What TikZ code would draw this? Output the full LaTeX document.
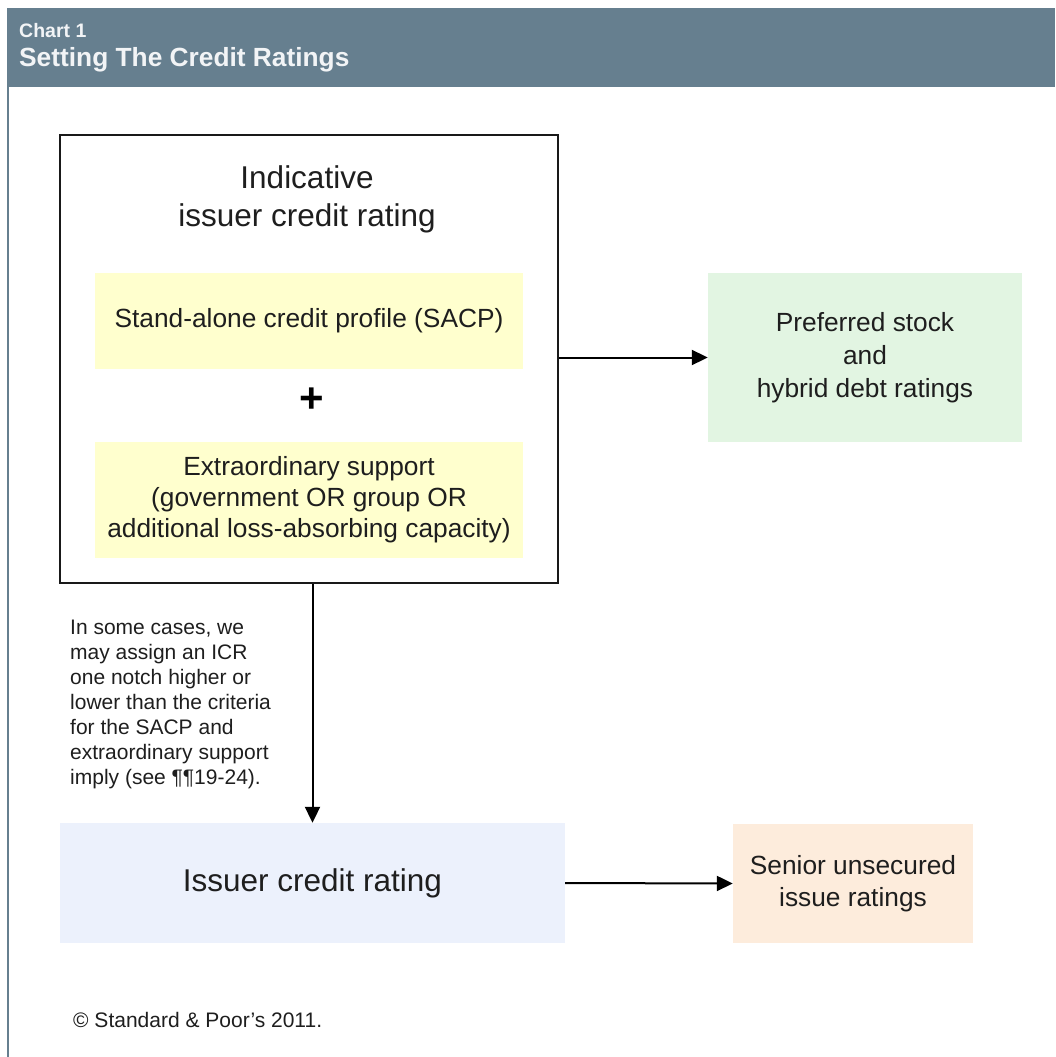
\documentclass[tikz,border=0pt]{standalone}
\usepackage{fontspec}
\setmainfont{Liberation Sans}
\usetikzlibrary{arrows.meta}
\definecolor{hdr}{RGB}{102,127,143}
\definecolor{hdrtxt}{RGB}{242,244,246}
\definecolor{txt}{RGB}{30,30,30}
\definecolor{yel}{RGB}{255,255,206}
\definecolor{grn}{RGB}{226,245,226}
\definecolor{blu}{RGB}{236,241,252}
\definecolor{pch}{RGB}{253,236,220}
\tikzset{
  fillbox/.style={draw=none, inner sep=0pt, align=center, text=txt},
  big/.style={font=\fontsize{31.5}{38}\selectfont},
  mid/.style={font=\fontsize{26.3}{32}\selectfont},
  small/.style={font=\fontsize{21}{25}\selectfont},
  arr/.style={line width=2pt, draw=black, -{Triangle[length=16pt,width=15pt]}},
}
\begin{document}
\begin{tikzpicture}[x=1pt,y=-1pt]
\useasboundingbox (0,0) rectangle (1055,1057);
% header and frame
\fill[hdr] (7,8) rectangle (1055,87);
\draw[hdr, line width=1.5pt] (8,87) -- (8,1057);
\node[anchor=west, text=hdrtxt, font=\fontsize{19.5}{22}\selectfont\bfseries, inner sep=0pt] (chart) at (19,31) {Chart 1};
\node[anchor=west, text=hdrtxt, font=\fontsize{26.3}{30}\selectfont\bfseries, inner sep=0pt] (title) at (19,60) {Setting The Credit Ratings};
% main box
\node[draw=black!90, line width=2pt, minimum width=498pt, minimum height=448pt, inner sep=0pt] (main) at (309,359) {};
\node[fillbox, big] (ind) at (307,199) {Indicative\\issuer credit rating};
\node[fillbox, mid, fill=yel, minimum width=428pt, minimum height=96pt] (sacp) at (309,321) {Stand-alone credit profile (SACP)};
\node[fillbox, font=\fontsize{42}{42}\selectfont\bfseries, text=black] (plus) at (312,400) {+};
\node[fillbox, mid, fill=yel, minimum width=428pt, minimum height=116pt, font=\fontsize{26.3}{31}\selectfont] (extra) at (309,500) {Extraordinary support\\(government OR group OR\\additional loss-absorbing capacity)};
% right boxes
\node[fillbox, mid, fill=grn, minimum width=314pt, minimum height=169pt, font=\fontsize{26.3}{33}\selectfont] (pref) at (865,357.5) {Preferred stock\\and\\hybrid debt ratings};
\node[fillbox, big, fill=blu, minimum width=505pt, minimum height=120pt] (icr) at (312.5,883) {Issuer credit rating};
\node[fillbox, mid, fill=pch, minimum width=240pt, minimum height=119pt] (sen) at (853,883.5) {Senior unsecured\\issue ratings};
% note
\node[fillbox, small, align=left, anchor=west] (note) at (70,704) {In some cases, we\\may assign an ICR\\one notch higher or\\lower than the criteria\\for the SACP and\\extraordinary support\\imply (see ¶¶19-24).};
\node[fillbox, small, anchor=west] (copy) at (73,1020) {© Standard \& Poor's 2011.};
% connectors
\draw[arr] (main.east |- pref.west) -- (pref.west);
\draw[arr] (main.south -| icr.north) -- (icr.north);
\draw[arr] (icr.east) -- (sen.west);
\end{tikzpicture}
\end{document}
